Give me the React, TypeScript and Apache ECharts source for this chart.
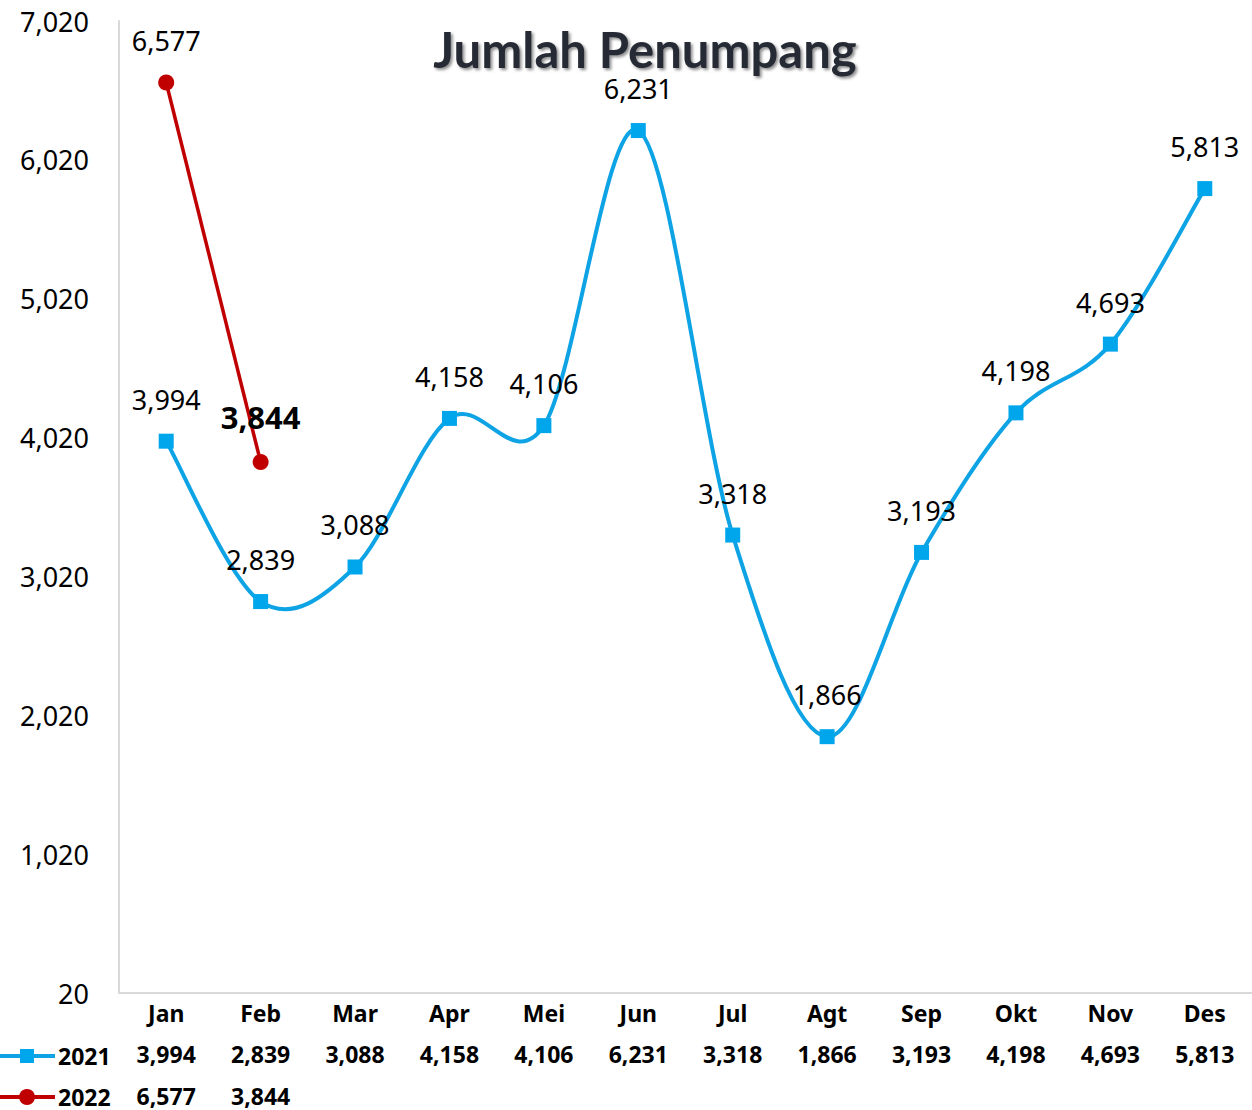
import React, { useEffect, useRef } from "react";
import * as echarts from "echarts";

const months = ["Jan", "Feb", "Mar", "Apr", "Mei", "Jun", "Jul", "Agt", "Sep", "Okt", "Nov", "Des"];
const passengers2021 = [3994, 2839, 3088, 4158, 4106, 6231, 3318, 1866, 3193, 4198, 4693, 5813];
const passengers2022 = [6577, 3844];
const seriesNames = ["2021", "2022"];
const yMin = 20;
const yMax = 7020;
const yStep = 1000;

const BLUE = "#0ea3e4";
const BLUE_MARK = "#00a6ec";
const RED = "#c00000";
const FONT = "Noto Sans";

const fmt = (v: number | null | undefined) =>
  v == null ? "" : Number(v).toLocaleString("en-US");

export default function App() {
  const ref = useRef<HTMLDivElement>(null);
  useEffect(() => {
    if (!ref.current) return;
    const chart = echarts.init(ref.current, null, { renderer: "svg" });
    const n = passengers2021.length;
    const data2022 = months.map((_, i) =>
      passengers2022[i] == null
        ? null
        : i === passengers2022.length - 1
        ? {
            value: passengers2022[i],
            label: { fontWeight: "bold", fontSize: 31, distance: 22 },
          }
        : passengers2022[i]
    );

    // Excel-like smoothed line (Catmull-Rom bezier) drawn through the axis scales
    const renderSmooth = (params: any, api: any) => {
      const i = params.dataIndex;
      if (i >= n - 1) return null;
      const pt = (k: number) => {
        const kk = Math.max(0, Math.min(n - 1, k));
        return api.coord([kk, passengers2021[kk]]);
      };
      const p0 = pt(i - 1);
      const p1 = pt(i);
      const p2 = pt(i + 1);
      const p3 = pt(i + 2);
      const t = 1 / 6;
      return {
        type: "bezierCurve",
        shape: {
          x1: p1[0],
          y1: p1[1],
          cpx1: p1[0] + (p2[0] - p0[0]) * t,
          cpy1: p1[1] + (p2[1] - p0[1]) * t,
          cpx2: p2[0] - (p3[0] - p1[0]) * t,
          cpy2: p2[1] - (p3[1] - p1[1]) * t,
          x2: p2[0],
          y2: p2[1],
        },
        style: { stroke: BLUE, lineWidth: 4, fill: null, lineCap: "round" },
        silent: true,
      };
    };

    const legendRow = (y: number, name: string, color: string, marker: any) => ({
      type: "group",
      children: [
        {
          type: "line",
          shape: { x1: 0, y1: y, x2: 55, y2: y },
          style: { stroke: color, lineWidth: 4 },
        },
        marker,
        {
          type: "text",
          style: {
            text: name,
            x: 58,
            y,
            textVerticalAlign: "middle",
            fontFamily: FONT,
            fontWeight: "bold",
            fontSize: 23,
            fill: "#000",
          },
        },
      ],
    });

    chart.setOption({
      animation: false,
      backgroundColor: "#ffffff",
      textStyle: { fontFamily: FONT },
      grid: { left: 119, top: 21, width: 1136, height: 972, containLabel: false },
      graphic: [
        {
          type: "text",
          z: 10,
          style: {
            text: "Jumlah Penumpang",
            x: 645,
            y: 49,
            textAlign: "center",
            textVerticalAlign: "middle",
            fontFamily: "Lato",
            fontWeight: "bold",
            fontSize: 49,
            fill: "#272c35",
            textShadowColor: "rgba(0,0,0,0.45)",
            textShadowBlur: 3,
            textShadowOffsetX: 2,
            textShadowOffsetY: 2,
          },
        },
        legendRow(1056, seriesNames[0], BLUE, {
          type: "rect",
          shape: { x: 20, y: 1049, width: 14, height: 14 },
          style: { fill: BLUE_MARK },
        }),
        legendRow(1097, seriesNames[1], RED, {
          type: "circle",
          shape: { cx: 27, cy: 1097, r: 8 },
          style: { fill: RED },
        }),
      ],
      xAxis: {
        type: "category",
        data: months,
        boundaryGap: true,
        axisLine: { show: true, lineStyle: { color: "#d9d9d9", width: 2 } },
        axisTick: { show: false },
        axisLabel: {
          interval: 0,
          margin: -1,
          formatter: (value: string, index: number) =>
            `{m|${value}}\n{v|${fmt(passengers2021[index])}}\n{v|${fmt(passengers2022[index]) || " "}}`,
          rich: {
            m: { fontFamily: FONT, fontWeight: "bold", fontSize: 23, color: "#000", lineHeight: 41.5 },
            v: { fontFamily: FONT, fontWeight: "bold", fontSize: 23, color: "#000", lineHeight: 41.5 },
          },
        },
      },
      yAxis: {
        type: "value",
        min: yMin,
        max: yMax,
        interval: yStep,
        splitLine: { show: false },
        axisLine: { show: true, lineStyle: { color: "#d9d9d9", width: 2 } },
        axisTick: { show: false },
        axisLabel: {
          margin: 30,
          fontFamily: FONT,
          fontSize: 27,
          color: "#000",
          formatter: (v: number) => fmt(v),
        },
      },
      series: [
        {
          name: seriesNames[0] + " line",
          type: "custom",
          coordinateSystem: "cartesian2d",
          data: passengers2021.map((v, i) => [i, v]),
          encode: { x: 0, y: 1 },
          renderItem: renderSmooth,
          silent: true,
          z: 1,
        },
        {
          name: seriesNames[0],
          type: "line",
          data: passengers2021,
          symbol: "rect",
          symbolSize: 15,
          lineStyle: { width: 0, opacity: 0 },
          itemStyle: { color: BLUE_MARK },
          label: {
            show: true,
            position: "top",
            distance: 21,
            fontFamily: FONT,
            fontSize: 27,
            color: "#000",
            formatter: (p: any) => fmt(p.value),
          },
          z: 2,
        },
        {
          name: seriesNames[1],
          type: "line",
          data: data2022,
          symbol: "circle",
          symbolSize: 16,
          lineStyle: { color: RED, width: 3.5 },
          itemStyle: { color: RED },
          label: {
            show: true,
            position: "top",
            distance: 21,
            fontFamily: FONT,
            fontSize: 27,
            color: "#000",
            formatter: (p: any) => fmt(p.value),
          },
          z: 3,
        },
      ],
    });
    return () => chart.dispose();
  }, []);
  return (
    <div
      ref={ref}
      style={{ position: "fixed", left: 0, top: 0, width: 1252, height: 1110, background: "#fff" }}
    />
  );
}
